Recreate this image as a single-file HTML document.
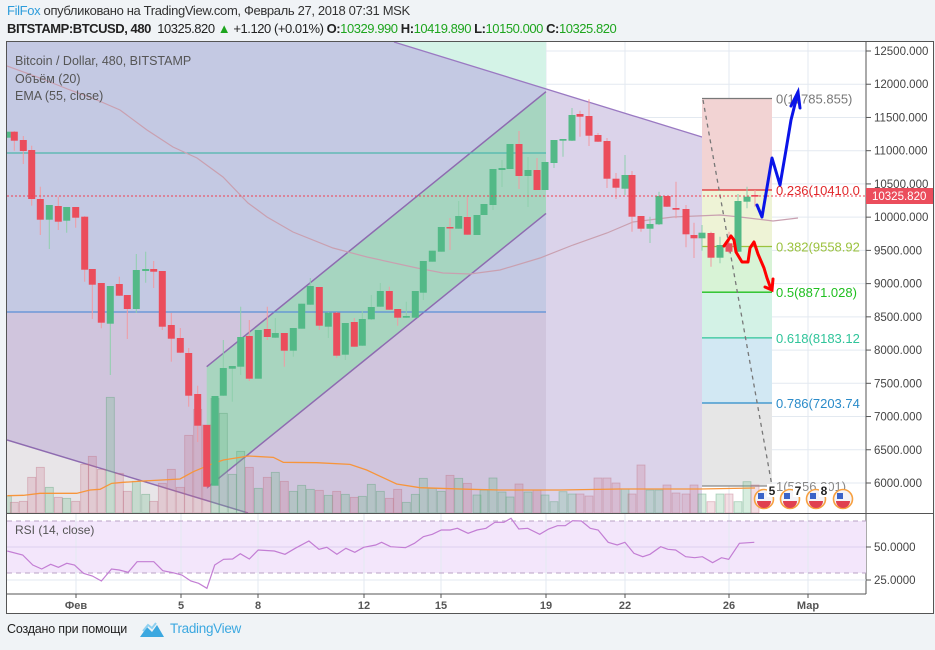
<!DOCTYPE html>
<html><head><meta charset="utf-8">
<style>
html,body{margin:0;padding:0;background:#f0f3f6;width:935px;height:650px;overflow:hidden;font-family:"Liberation Sans","DejaVu Sans",sans-serif;}
#hdr1{position:absolute;left:7px;top:3px;font-size:13px;color:#333;white-space:nowrap;letter-spacing:-0.35px}
#hdr2{position:absolute;left:7px;top:21px;font-size:13px;color:#222;white-space:nowrap;letter-spacing:-0.45px}
.g{color:#1ea51e}
#foot{position:absolute;left:7px;top:622px;font-size:12.5px;color:#222;white-space:nowrap;letter-spacing:-0.2px}
#tv{position:absolute;left:170px;top:621px;font-size:13.5px;color:#3ca8e0;letter-spacing:-0.3px}
svg{position:absolute;left:0;top:0}
</style></head><body>
<div id="hdr1"><span style="color:#2d9cdb">FilFox</span> опубликовано на TradingView.com, Февраль 27, 2018 07:31 MSK</div>
<div id="hdr2"><b>BITSTAMP:BTCUSD, 480</b>&nbsp; 10325.820 <span style="color:#1ea51e">▲</span> +1.120 (+0.01%) <b>O:</b><span class="g">10329.990</span> <b>H:</b><span class="g">10419.890</span> <b>L:</b><span class="g">10150.000</span> <b>C:</b><span class="g">10325.820</span></div>
<div id="foot">Создано при помощи</div>
<div id="tv">TradingView</div>
<svg width="935" height="650" id="s" xmlns="http://www.w3.org/2000/svg"></svg>
<script>
const S=document.getElementById('s');let h='';
const Y=p=>51+(12500-p)*0.06646;
h+='<defs><clipPath id="cp"><rect x="7" y="42" width="859" height="471"/></clipPath><clipPath id="wd"><polygon points="7,42 394,42 702,137 702,513 7,513"/></clipPath><clipPath id="cr"><rect x="7" y="514" width="859" height="80"/></clipPath></defs>';
h+='<rect x="7" y="42" width="926" height="571" fill="#fff"/>';
let gv=[76,181,258,364,441,546,625,729,808];
h+='<g clip-path="url(#cp)">';
for(let p=6000;p<=12500;p+=500)h+=`<line x1="7" x2="866" y1="${Y(p)}" y2="${Y(p)}" stroke="#e3e9f0"/>`;
gv.forEach(x=>h+=`<line x1="${x}" x2="${x}" y1="42" y2="513" stroke="#e3e9f0"/>`);
h+='<rect x="394" y="42" width="152" height="60" fill="#d4f3e7"/>';
h+='<polygon points="7,42 394,42 702,137 702,513 7,513" fill="#dbd3ea"/>';
h+='<g clip-path="url(#wd)"><rect x="7" y="42" width="539" height="270" fill="#c4c9e3"/><rect x="7" y="312" width="539" height="201" fill="#d0c5dd"/></g>';
h+='<polygon points="7,440 248,513 7,513" fill="#e8e5e8"/>';
h+='<line x1="394" y1="42" x2="702" y2="137" stroke="#9a79c2" stroke-width="1.3"/>';
h+='<line x1="7" y1="440" x2="248" y2="513" stroke="#8e6bb0" stroke-width="1.5"/>';
h+='<polygon points="206.7,366.7 546,91.7 546,213.4 206.7,488" fill="#a3d6bb" opacity="0.9"/>';
h+='<line x1="206.7" y1="366.7" x2="546" y2="91.7" stroke="#8e6bb0" stroke-width="1.5"/><line x1="206.7" y1="488" x2="546" y2="213.4" stroke="#8e6bb0" stroke-width="1.5"/>';
const fb=[[98.5,190,'#f2d3d3'],[190,246.5,'#eef3d6'],[246.5,292.2,'#d8f3d6'],[292.2,337.9,'#d3f2e6'],[337.9,403,'#d2e8f3'],[403,486,'#e6e6e6']];
fb.forEach(a=>h+=`<rect x="702" y="${a[0]}" width="70" height="${a[1]-a[0]}" fill="${a[2]}"/>`);
const fl=[[98.5,'#787878','0(11785.855)'],[190,'#e0272a','0.236(10410.0'],[246.5,'#9bc23d','0.382(9558.92'],[292.2,'#1fbf1f','0.5(8871.028)'],[337.9,'#2fc49a','0.618(8183.12'],[403,'#2a8bc9','0.786(7203.74'],[486,'#888','1(5956.201)']];
fl.forEach(a=>{h+=`<line x1="702" x2="772" y1="${a[0]}" y2="${a[0]}" stroke="${a[1]}" stroke-width="1.3"/><text x="776" y="${a[0]+5}" font-size="13" fill="${a[1]}">${a[2]}</text>`});
h+='<line x1="703" y1="100" x2="772" y2="486" stroke="#777" stroke-width="1.3" stroke-dasharray="4,4"/>';
h+='<line x1="7" x2="546" y1="153" y2="153" stroke="#4db6ac" stroke-width="1.2"/><line x1="7" x2="546" y1="312" y2="312" stroke="#5a8fd6" stroke-width="1.2"/>';
const C=[[7.3,'g',131.7,137.7],[14.3,'r',131.7,140.7,131,150.7],[23.3,'r',140,151,136,164],[31.7,'r',150,199,145.7,205.7],[40.3,'r',199,219.7,186.7,235],[49.3,'g',205,219.7,205,249],[58.3,'r',206,221.7,196.7,230],[66.7,'g',207,220.7,207,232.7],[75.7,'r',207,217.7,207,227.7],[84.7,'r',216.7,269.7,216,281.7],[92.3,'r',269,284.7,269,319],[101.3,'r',283,322.7,283,328.3],[110.3,'g',286,323.7,286,375],[119.3,'r',284,295.7,276.7,296],[127.3,'r',295,309,295,339],[136.3,'g',270,309,254,313],[145.7,'g',269,271,251.7,282.7],[153.7,'r',269,271.7,261,288],[162.3,'r',271,326.7,271,330],[171.3,'r',325,338.7,313,361.7],[180.3,'r',338,352.7,328,353],[188.7,'r',353,395.7,348,406.7],[197.7,'r',394,425.7,385.7,442],[206.7,'r',425,486.7,425,488],[215,'g',396,485.7],[223.3,'g',368,395.7,340,396],[232.3,'g',366,368.7,366,401.7],[240.7,'g',337,366.7,306.7,375],[249.3,'r',336,378.7,320,381],[258.3,'g',330,378.7],[267.3,'r',329,337,306.7,340],[275.3,'g',333,337.7,318,338],[284.3,'r',333,350.7,333,366.7],[293.3,'g',328,350.7,328,356.7],[301.7,'g',303.7,328.7],[310.3,'g',286,304.7,278,305],[319.3,'r',287,325.7,287,330],[328.3,'g',312.7,326.7,312,338],[336.7,'r',312.7,355.7,312,358],[345.3,'g',323,354.7,323,360],[354.3,'r',322,346.7,318,347],[362.3,'g',319,345.7,310.7,346],[371.3,'g',307,319.3,295,320],[380.3,'g',291,306.7,283,307],[389.3,'r',291,309.7,286.7,310],[397.7,'r',309,317.7,309,325.7],[406.3,'g',316,317.7,301.7,318],[415.3,'g',291,317.7],[423.3,'g',261,292.7,261,300],[432.3,'g',250.7,261.7],[441.3,'g',227,251.7],[450,'r',227,228.5,218,250],[458.7,'g',216,228.7,201,229],[467.3,'r',217,234.7,196.7,235],[477,'g',215,235],[484,'g',204,215],[493,'g',169,205,169,210],[502,'g',168,170,160,187],[510,'g',144,169],[519,'r',144,176,131,189],[528,'g',170,176,157,207],[537,'r',170,190,158,190],[545,'g',162,190],[554,'g',140,163,140,168],[563,'g',139,140.7,139,156.7],[572,'g',115,140.7,108,141],[580,'r',114,116.7,110.7,136.7],[589,'r',116,135.7,99.3,146],[598,'r',135,141.7,133,142],[607,'r',141,178.7,138,188],[616,'r',178.7,187.7,173,199],[625,'g',175,188.7,155,195],[632,'r',175,216.7,171,231.7],[641,'r',216,228.7,216,231.7],[650,'g',224,228.7,216.7,243],[659,'g',196,224.3,191.7,225],[667,'r',196,206.7,196,207],[676,'r',208,209.7,181.7,218.3],[686,'r',209,234.3,205,247.3],[694,'r',235,238.3,222.7,258],[702,'g',232.7,238.3,225,250.7],[711,'r',233,257.7,231.7,266.7],[720,'g',245,257.7,236.7,263.3],[729,'r',243.3,251.7,231.7,253.3],[738,'g',201,251.7,194,252],[747,'g',196.7,201.7,186.7,208.3],[755,'r',195,196.7,190,206.7]];
const VZ=[1188,1207,1204,1132,1102,1162,1192,1195,1204,1093,1069,1108,892,1120,1174,1144,1183,1204,1150,1108,1162,1006,928,975,895,940,1123,1054,1102,1165,1132,1117,1144,1174,1156,1168,1171,1186,1174,1183,1192,1189,1153,1174,1195,1168,1207,1183,1135,1165,1174,1126,1135,1150];
let V=VZ.map(z=>100+z/3);V=V.concat([495,490,478,492,497,484,492,490,495,501.7,491.7,494,494,496,478,478,483,489,494,465,490,490,485,493,494,485,494,501.7,494,494,501.7,481.7,485,490]);
C.forEach((c,i)=>{const v=V[i]||495;const g=c[1]=='g';h+=`<rect x="${c[0]-4}" y="${v}" width="8" height="${513-v}" fill="${g?'rgba(110,190,140,0.28)':'rgba(200,110,130,0.22)'}" stroke="${g?'rgba(90,160,120,0.45)':'rgba(190,110,130,0.45)'}" stroke-width="0.8"/>`});
let om=[[22,1187],[70,1186],[120,1180],[230,1180],[270,1170],[300,1168],[335,1150],[370,1147],[430,1143],[540,1137],[580,1115],[640,1090],[670,1080],[745,1068],[820,1072],[850,1087],[950,1088],[1050,1093],[1100,1110],[1190,1152],[1260,1163],[1410,1168]].map(a=>[a[0]/3,100+a[1]/3]);
om=om.concat([[500,490],[560,490],[620,489],[700,489],[755,488]]);
h+=`<polyline points="${om.map(a=>a.join(',')).join(' ')}" fill="none" stroke="#f7953b" stroke-width="1.3"/>`;
const em=[[7,66],[40,78],[70,90],[97,100],[120,110],[147,130],[173,147],[197,158],[223,177],[248,203],[267,217],[293,232],[333,248],[367,257],[417,268],[443,273],[470,274],[500,270],[540,258],[573,245],[607,233],[633,222],[673,217],[720,215],[740,217],[773,221],[798,218]];
h+=`<polyline points="${em.map(a=>a.join(',')).join(' ')}" fill="none" stroke="#c9a0b0" stroke-width="1.2"/>`;
C.forEach(c=>{const col=c[1]=='g'?'#53b987':'#eb4d5c';const wt=c.length>4?c[4]:c[2];const wb=c.length>5?c[5]:c[3];
h+=`<line x1="${c[0]}" x2="${c[0]}" y1="${wt}" y2="${wb}" stroke="${c[1]=='g'?'#8fcfad':'#f19aa2'}" stroke-width="1"/>`;
h+=`<rect x="${c[0]-3.5}" y="${c[2]}" width="7" height="${Math.max(c[3]-c[2],1.5)}" fill="${col}"/>`});
h+='<line x1="7" x2="866" y1="196" y2="196" stroke="#f04050" stroke-dasharray="2,2"/>';
h+='<polyline points="757,205 762,217 772,158 780,185 786,150 791,120 798,92" fill="none" stroke="#0a14e8" stroke-width="3" stroke-linejoin="round" stroke-linecap="round"/><polyline points="791,106 798,92 800,108" fill="none" stroke="#0a14e8" stroke-width="3" stroke-linecap="round"/>';
h+='<polyline points="724,246 731,236 734,240 736,252 742,262 748,262 750,248 754,242 758,254 764,268 767,278 771,289" fill="none" stroke="#f00" stroke-width="3" stroke-linejoin="round" stroke-linecap="round"/><polyline points="765,287 772,290 773,279" fill="none" stroke="#f00" stroke-width="3" stroke-linecap="round"/>';
[[764,'5'],[790,'7'],[816,'8'],[843,'']].forEach(a=>{h+=`<circle cx="${a[0]}" cy="499" r="9.5" fill="#f4f4f8" stroke="#f7a040" stroke-width="1.6"/><path d="M${a[0]-7},501 h14 a7,7 0 0 1 -14,0z" fill="#e04050"/><rect x="${a[0]-6}" y="493" width="6" height="6" fill="#3a63c8"/>`;if(a[1])h+=`<rect x="${a[0]+3}" y="484" width="10" height="13" fill="#fff"/><text x="${a[0]+8}" y="495" font-size="12" font-weight="bold" text-anchor="middle" fill="#222">${a[1]}</text>`});
h+='</g>';
h+='<text x="15" y="65" font-size="12.5" fill="#555">Bitcoin / Dollar, 480, BITSTAMP</text><text x="15" y="83" font-size="12.5" fill="#555">Объём (20)</text><text x="15" y="100" font-size="12.5" fill="#555">EMA (55, close)</text>';
h+='<line x1="866" x2="866" y1="42" y2="594" stroke="#555"/>';
for(let p=6000;p<=12500;p+=500){const y=Y(p);h+=`<line x1="866" x2="871" y1="${y}" y2="${y}" stroke="#555"/><text x="874" y="${y+4}" font-size="11.5" fill="#444">${p}.000</text>`}
h+='<rect x="866" y="188" width="67" height="16" fill="#eb4d5c"/><text x="872" y="200" font-size="11.5" fill="#fff">10325.820</text>';
h+='<line x1="7" x2="933" y1="513.5" y2="513.5" stroke="#555"/>';
h+='<rect x="7" y="521" width="859" height="52" fill="#f3e6fb"/>';
gv.forEach(x=>h+=`<line x1="${x}" x2="${x}" y1="514" y2="594" stroke="#e3e9f0"/>`);
h+='<line x1="7" x2="866" y1="580" y2="580" stroke="#e3e9f0"/><line x1="7" x2="866" y1="547" y2="547" stroke="#dcd0ef"/>';
h+='<line x1="7" x2="866" y1="521" y2="521" stroke="#b9a2c6" stroke-dasharray="5,4"/><line x1="7" x2="866" y1="573" y2="573" stroke="#b9a2c6" stroke-dasharray="5,4"/>';
const rz=[[12,138],[38,150],[55,180],[70,192],[85,178],[98,187],[112,175],[125,180],[140,205],[155,213],[170,228],[187,192],[200,195],[215,202],[230,170],[258,170],[273,197],[290,203],[305,210],[320,228],[333,235],[347,250],[360,180],[375,163],[390,162],[403,146],[418,162],[433,135],[460,138],[478,148],[495,130],[518,108],[535,133],[548,127],[565,148],[580,130],[595,142],[610,127],[630,120],[640,112],[655,125],[680,128],[695,115],[710,95],[725,88],[740,75],[755,75],[767,70],[785,85],[800,75],[815,70],[830,52],[845,52],[857,40],[870,72],[885,70],[905,88],[920,72],[935,62],[948,62],[960,47],[975,48],[990,70],[1003,75],[1020,112],[1035,120],[1048,112],[1063,145],[1078,155],[1090,148],[1108,125],[1120,133],[1133,135],[1150,155],[1165,158],[1178,155],[1195,173],[1210,158],[1222,163],[1240,115],[1265,112]];
h+=`<polyline clip-path="url(#cr)" points="${rz.map(a=>(a[0]/1.677).toFixed(1)+','+(505+a[1]/3).toFixed(1)).join(' ')}" fill="none" stroke="#c37ed4" stroke-width="1.2"/>`;
h+='<text x="15" y="534" font-size="12" fill="#555">RSI (14, close)</text>';
h+='<line x1="866" x2="871" y1="547" y2="547" stroke="#555"/><text x="874" y="551" font-size="11.5" fill="#444">50.0000</text><line x1="866" x2="871" y1="580" y2="580" stroke="#555"/><text x="874" y="584" font-size="11.5" fill="#444">25.0000</text>';
h+='<line x1="7" x2="866" y1="594" y2="594" stroke="#555"/>';
const dl=['Фев','5','8','12','15','19','22','26','Мар'];
gv.forEach((x,i)=>h+=`<line x1="${x}" x2="${x}" y1="594" y2="598" stroke="#555"/><text x="${x}" y="609" font-size="11" font-weight="bold" text-anchor="middle" fill="#555">${dl[i]}</text>`);
h+='<rect x="6.5" y="41.5" width="927" height="572" fill="none" stroke="#555"/>';
h+='<path d="M140,637 l7,-10 l5,5 l5,-7 l7,12 z" fill="#3ca8e0"/><path d="M143,631 l5,-6 l4,3 l4,-5" fill="none" stroke="#8fd0f0" stroke-width="2"/>';
S.innerHTML=h;
</script>
</body></html>
